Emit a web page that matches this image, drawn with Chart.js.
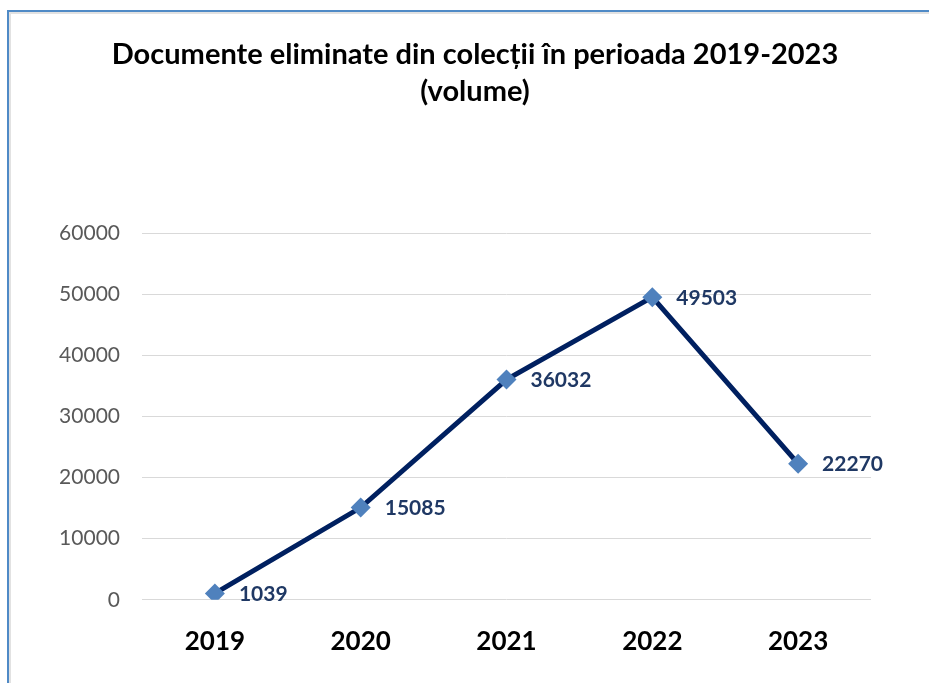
<!DOCTYPE html>
<html>
<head>
<meta charset="utf-8">
<script src="https://cdn.jsdelivr.net/npm/chart.js@4/dist/chart.umd.min.js"></script>
<style>
    html, body { margin: 0; padding: 0; background: #fff; overflow: hidden; }
    #wrap { position: relative; width: 929px; height: 683px; }
    #frame {
        position: absolute; left: 7px; top: 10px; width: 960px; height: 720px;
        border-left: 2px solid #4f8ac6; border-top: 2px solid #4f8ac6;
        box-shadow: inset 2px 2px 0 #e2e2e2; pointer-events: none;
    }
</style>
</head>
<body>
<div id="wrap">
    <canvas id="docChart" width="929" height="683"></canvas>
    <div id="frame"></div>
</div>
<script>
var years = ['2019', '2020', '2021', '2022', '2023']
var eliminated = [1039, 15085, 36032, 49503, 22270]
var yTicks = [0, 10000, 20000, 30000, 40000, 50000, 60000]

// labels drawn right of each point, like the office chart
var pointLabels = {
    id: 'pointLabels',
    afterDatasetsDraw: function (chart) {
        var ctx = chart.ctx
        var meta = chart.getDatasetMeta(0)
        ctx.save()
        ctx.font = 'bold 21px Lato'
        ctx.fillStyle = '#1f3864'
        ctx.textAlign = 'left'
        ctx.textBaseline = 'middle'
        meta.data.forEach(function (pt, i) {
            ctx.fillText(String(eliminated[i]), pt.x + 24, pt.y + 1)
        })
        ctx.restore()
    }
}

const ctx = document.getElementById('docChart').getContext('2d');

const docChart = new Chart(ctx, {
    type: 'line',
    data: {
        labels: years,
        datasets: [{
            label: 'Documente eliminate',
            data: eliminated,
            borderColor: '#002060',
            borderWidth: 5,
            pointStyle: 'rectRot',
            pointRadius: 10,
            pointHoverRadius: 10,
            pointBackgroundColor: '#4f81bd',
            pointBorderColor: '#4f81bd',
            pointBorderWidth: 0,
            tension: 0
        }]
    },
    options: {
        responsive: false,
        animation: false,
        layout: {
            padding: { left: 21, right: 0, top: 0, bottom: 0 }
        },
        plugins: {
            legend: { display: false },
            tooltip: { enabled: false },
            title: {
                display: true,
                text: ['Documente eliminate din colecții în perioada 2019-2023', '(volume)'],
                color: '#000',
                font: { family: 'Lato', size: 29, weight: 'bold', lineHeight: 1.276 },
                padding: { top: 36, bottom: 123 }
            }
        },
        scales: {
            x: {
                offset: true,
                grid: { display: false, drawTicks: false },
                border: { display: false },
                ticks: {
                    color: '#000',
                    padding: 26,
                    font: { family: 'Lato', size: 26, weight: 'bold' }
                }
            },
            y: {
                min: 0,
                max: 60000,
                afterFit: function (scale) { scale.width = 121 },
                afterBuildTicks: function (scale) {
                    scale.ticks = yTicks.map(function (v) { return { value: v } })
                },
                grid: { color: '#d9d9d9', lineWidth: 1, drawTicks: false },
                border: { display: false },
                ticks: {
                    color: '#595959',
                    padding: 22,
                    font: { family: 'Lato', size: 21 },
                    callback: function (v) { return String(v) }
                }
            },
            // empty right axis, only keeps the right margin of the plot
            yRight: {
                position: 'right',
                afterFit: function (scale) { scale.width = 58 },
                grid: { display: false, drawTicks: false },
                border: { display: false },
                ticks: { display: false }
            }
        }
    },
    plugins: [pointLabels]
});
</script>
</body>
</html>
